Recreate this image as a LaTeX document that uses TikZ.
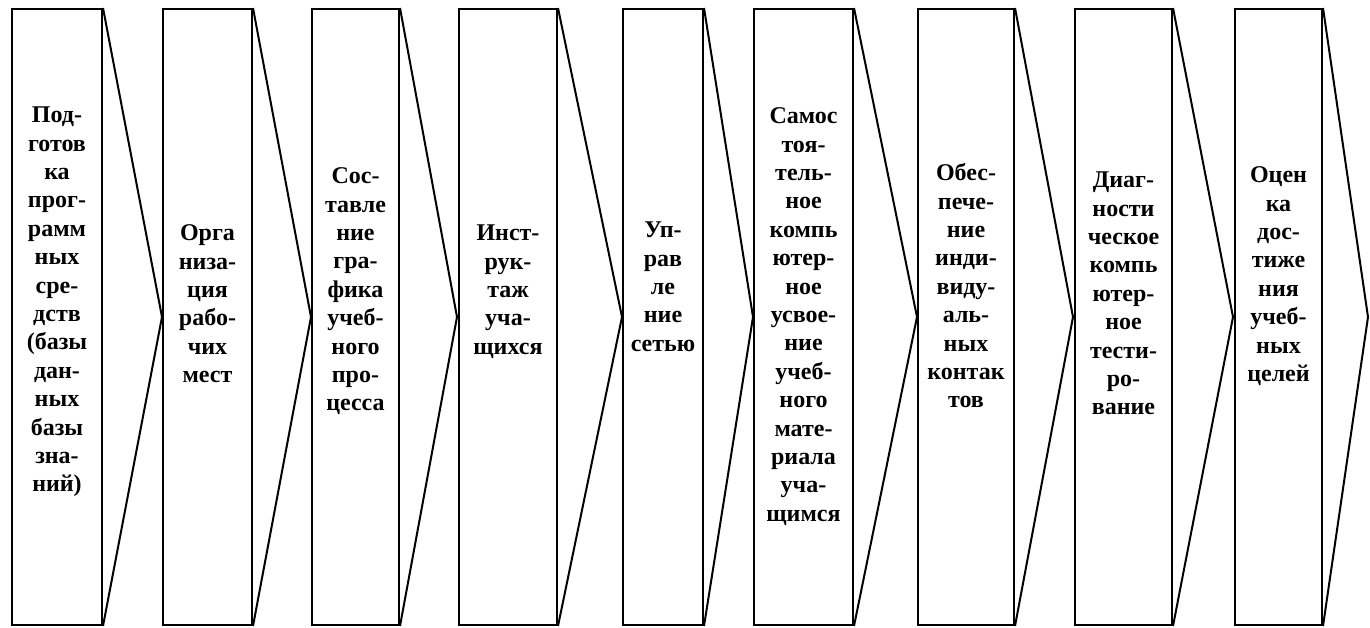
\documentclass[tikz,border=0pt]{standalone}
\usepackage{fontspec}
\setmainfont{Liberation Serif}
\begin{document}
\begin{tikzpicture}[x=1pt,y=-1pt,
  stage/.style={draw=black, line width=2pt, rectangle, inner sep=0pt, minimum height=616pt},
  tip/.style={draw=black, line width=2pt, line join=miter},
  lbl/.style={font=\fontsize{24}{28.4}\selectfont\bfseries, align=center, anchor=north, inner sep=0pt}]
\useasboundingbox (0,0) rectangle (1370,628);
% boxes
\node[stage, minimum width=90pt] (b1) at (57,317) {};
\node[stage, minimum width=89pt] (b2) at (207.5,317) {};
\node[stage, minimum width=87pt] (b3) at (355.5,317) {};
\node[stage, minimum width=98pt] (b4) at (508,317) {};
\node[stage, minimum width=80pt] (b5) at (663,317) {};
\node[stage, minimum width=99pt] (b6) at (803.5,317) {};
\node[stage, minimum width=96pt] (b7) at (966,317) {};
\node[stage, minimum width=97pt] (b8) at (1123.5,317) {};
\node[stage, minimum width=87pt] (b9) at (1278.5,317) {};
% apexes
\coordinate (a1) at (162,317);
\coordinate (a2) at (311,317);
\coordinate (a3) at (457,317);
\coordinate (a4) at (622,317);
\coordinate (a5) at (753,317);
\coordinate (a6) at (917,317);
\coordinate (a7) at (1073,317);
\coordinate (a8) at (1233,317);
\coordinate (a9) at (1368,317);
\foreach \i in {1,...,9}{
  \draw[tip] (b\i.north east) -- (a\i) -- (b\i.south east);
}
% labels
\node[lbl] (t1) at (57,102.6) {\strut Под-\\готов\\ка\\прог-\\рамм\\ных\\сре-\\дств\\(базы\\дан-\\ных\\базы\\зна-\\ний)};
\node[lbl] (t2) at (207.5,220.6) {\strut Орга\\низа-\\ция\\рабо-\\чих\\мест};
\node[lbl] (t3) at (355.5,163.6) {\strut Сос-\\тавле\\ние\\гра-\\фика\\учеб-\\ного\\про-\\цесса};
\node[lbl] (t4) at (508,220.6) {\strut Инст-\\рук-\\таж\\уча-\\щихся};
\node[lbl] (t5) at (663,217.6) {\strut Уп-\\рав\\ле\\ние\\сетью};
\node[lbl] (t6) at (803.5,103.6) {\strut Самос\\тоя-\\тель-\\ное\\компь\\ютер-\\ное\\усвое-\\ние\\учеб-\\ного\\мате-\\риала\\уча-\\щимся};
\node[lbl] (t7) at (966,160.6) {\strut Обес-\\пече-\\ние\\инди-\\виду-\\аль-\\ных\\контак\\тов};
\node[lbl] (t8) at (1123.5,167.6) {\strut Диаг-\\ности\\ческое\\компь\\ютер-\\ное\\тести-\\ро-\\вание};
\node[lbl] (t9) at (1278.5,162.6) {\strut Оцен\\ка\\дос-\\тиже\\ния\\учеб-\\ных\\целей};
\end{tikzpicture}
\end{document}
